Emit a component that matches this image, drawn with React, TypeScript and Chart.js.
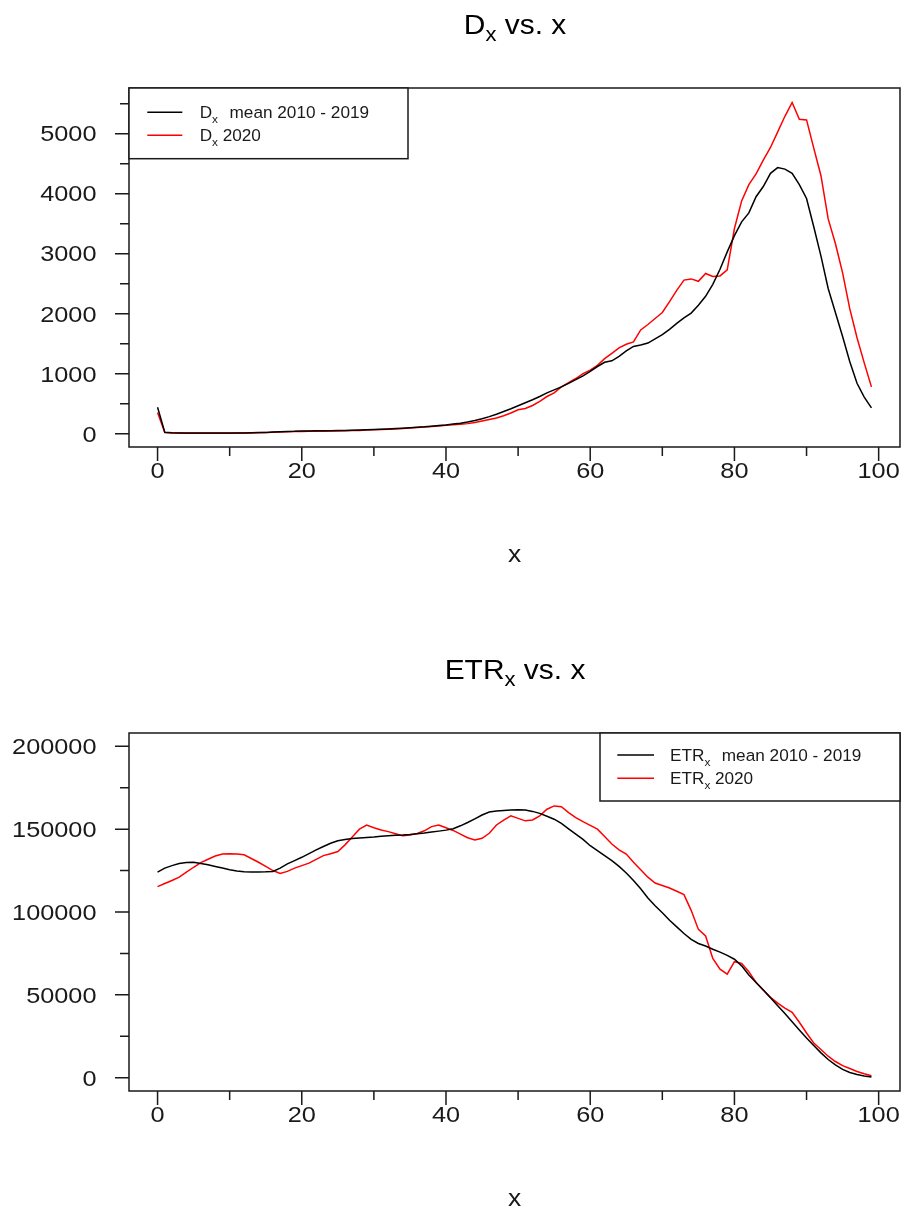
import React, { useEffect, useRef } from 'react';
import { Chart, registerables } from 'chart.js';

Chart.register(...registerables);

// ---------- data ----------
const ages = [
  0, 1, 2, 3, 4, 5, 6, 7, 8, 9, 10, 11, 12, 13, 14, 15, 16, 17, 18, 19,
  20, 21, 22, 23, 24, 25, 26, 27, 28, 29, 30, 31, 32, 33, 34, 35, 36, 37, 38, 39,
  40, 41, 42, 43, 44, 45, 46, 47, 48, 49, 50, 51, 52, 53, 54, 55, 56, 57, 58, 59,
  60, 61, 62, 63, 64, 65, 66, 67, 68, 69, 70, 71, 72, 73, 74, 75, 76, 77, 78, 79,
  80, 81, 82, 83, 84, 85, 86, 87, 88, 89, 90, 91, 92, 93, 94, 95, 96, 97, 98, 99,
];

const dxMean = [
  440, 25, 15, 12, 10, 10, 10, 10, 10, 10,
  10, 12, 12, 15, 18, 22, 28, 33, 38, 40,
  45, 47, 48, 48, 50, 52, 55, 57, 60, 65,
  70, 75, 80, 85, 92, 100, 108, 115, 125, 135,
  145, 160, 175, 195, 220, 250, 285, 325, 370, 415,
  465, 515, 565, 620, 680, 730, 780, 840, 900, 965,
  1040, 1120, 1190, 1215, 1290, 1380, 1455, 1480, 1510, 1580,
  1650, 1740, 1840, 1930, 2010, 2140, 2290, 2490, 2740, 3030,
  3300, 3530, 3680, 3950, 4120, 4340, 4435, 4410, 4340, 4150,
  3920, 3450, 2960, 2420, 2020, 1620, 1200, 840, 610, 430,
];

const dx2020 = [
  355, 20, 12, 10, 8, 8, 8, 8, 8, 8,
  8, 10, 10, 12, 15, 18, 26, 30, 34, 36,
  38, 40, 40, 42, 44, 46, 48, 52, 55, 60,
  65, 70, 75, 80, 87, 95, 102, 110, 120, 130,
  140, 150, 158, 168, 185, 210, 235, 262, 300, 345,
  400, 420, 470, 540, 620, 680, 780, 850, 920, 1000,
  1060, 1140, 1250, 1340, 1430, 1490, 1530, 1730, 1820, 1920,
  2020, 2200, 2390, 2560, 2580, 2540, 2670, 2620, 2630, 2730,
  3420, 3880, 4150, 4330, 4560, 4770, 5030, 5290, 5520, 5240,
  5230, 4760, 4300, 3580, 3170, 2680, 2080, 1600, 1180, 780,
];

const etrMean = [
  124000, 126500, 128000, 129300, 129800, 130000, 129200, 128500, 127500, 126500,
  125500, 124800, 124300, 124200, 124200, 124300, 124500, 126500, 129000, 131000,
  133000, 135200, 137500, 139500, 141500, 143000, 143800, 144300, 144700, 145000,
  145300, 145700, 146000, 146300, 146500, 146800, 147200, 147600, 148200, 148800,
  149400, 150200, 152000, 154000, 156200, 158500, 160300, 161000, 161300, 161600,
  161700, 161500, 160700, 159500, 157800, 156000, 153500, 150200, 147000, 143800,
  140000, 137000, 134000, 131000, 127500, 123500, 119000, 114000, 108500, 103800,
  99500, 95000, 91000, 87000, 83500, 81000, 79500, 77500, 75800, 73800,
  71500, 67500, 62000, 57500, 53000, 48200, 43500, 38800, 33800, 28800,
  24000, 19500, 15000, 11000, 7800, 5000, 3200, 2000, 1000, 400,
];

const etr2020 = [
  115300, 117200, 119000, 121000, 124000, 127000, 129800, 131800, 133800, 135000,
  135100, 135000, 134500, 132300, 130000, 127500, 125000, 123300, 124500, 126500,
  128000, 129500, 131800, 134000, 135200, 136500, 140500, 145300, 150000, 152400,
  150800, 149500, 148500, 147200, 146000, 146400, 147400, 149000, 151500, 152500,
  150800, 149200, 147000, 144800, 143500, 144500, 147500, 152500, 155500, 158000,
  156500, 155000, 155500, 158000, 162000, 164000, 163500, 160000, 157000, 154500,
  152300, 150000, 145500, 141000, 137500, 135000, 130000, 125500, 121000, 117500,
  116000, 114500, 112500, 110500, 101000, 89500, 85500, 72000, 65500, 62500,
  70000, 69000, 64000, 57500, 53000, 48500, 45000, 42000, 39500, 33500,
  27000, 21000, 17000, 13000, 9800, 7300, 5600, 3800, 2400, 1200,
];

const xTicks = [0, 20, 40, 60, 80, 100];
const xMinorTicks = [10, 30, 50, 70, 90];
const dxYTicks = [0, 1000, 2000, 3000, 4000, 5000];
const dxYMinorTicks = [500, 1500, 2500, 3500, 4500, 5500];
const etrYTicks = [0, 50000, 100000, 150000, 200000];
const etrYMinorTicks = [25000, 75000, 125000, 175000];

// ---------- drawing helpers ----------
const FONT = '"Liberation Sans", Arial, Helvetica, sans-serif';

type Part = { t: string; s: number; dy?: number };

function partsWidth(ctx: CanvasRenderingContext2D, parts: Part[], sx: number) {
  let w = 0;
  for (const p of parts) {
    ctx.font = `${p.s}px ${FONT}`;
    w += ctx.measureText(p.t).width * sx;
  }
  return w;
}

function drawParts(
  ctx: CanvasRenderingContext2D,
  parts: Part[],
  x: number,
  y: number,
  sx: number,
  align: 'left' | 'center' | 'right',
  color = '#000'
) {
  const total = partsWidth(ctx, parts, sx);
  let cx = x;
  if (align === 'center') cx = x - total / 2;
  if (align === 'right') cx = x - total;
  for (const p of parts) {
    ctx.save();
    ctx.font = `${p.s}px ${FONT}`;
    ctx.fillStyle = color;
    ctx.textAlign = 'left';
    ctx.textBaseline = 'alphabetic';
    const w = ctx.measureText(p.t).width * sx;
    ctx.translate(cx, y + (p.dy || 0));
    ctx.scale(sx, 1);
    ctx.fillText(p.t, 0, 0);
    ctx.restore();
    cx += w;
  }
  return cx;
}

type LegendRow = { color: string; head: Part[]; gap: number; tail: string };

type PanelSpec = {
  title: Part[];
  titleBaseline: number;
  yTicks: number[];
  yMinor: number[];
  legendBox: [number, number, number, number];
  legendLine: [number, number];
  legendTextX: number;
  legendRowsY: number[];
  legendRows: LegendRow[];
};

function framePlugin(spec: PanelSpec) {
  return {
    id: 'rframe',
    afterDraw(chart: any) {
      const ctx: CanvasRenderingContext2D = chart.ctx;
      const a = chart.chartArea;
      const xs = chart.scales.x;
      const ys = chart.scales.y;
      const ink = '#1a1a1a';
      ctx.save();
      ctx.strokeStyle = ink;
      ctx.lineWidth = 1.5;
      ctx.strokeRect(a.left, a.top, a.right - a.left, a.bottom - a.top);
      ctx.beginPath();
      for (const v of xTicks) {
        const px = xs.getPixelForValue(v);
        ctx.moveTo(px, a.bottom);
        ctx.lineTo(px, a.bottom + 14);
      }
      for (const v of xMinorTicks) {
        const px = xs.getPixelForValue(v);
        ctx.moveTo(px, a.bottom);
        ctx.lineTo(px, a.bottom + 9);
      }
      for (const v of spec.yTicks) {
        const py = ys.getPixelForValue(v);
        ctx.moveTo(a.left, py);
        ctx.lineTo(a.left - 14, py);
      }
      for (const v of spec.yMinor) {
        const py = ys.getPixelForValue(v);
        ctx.moveTo(a.left, py);
        ctx.lineTo(a.left - 9, py);
      }
      ctx.stroke();
      ctx.restore();

      // tick labels
      const tsx = 1.15;
      const ts = 22;
      for (const v of xTicks) {
        const px = xs.getPixelForValue(v);
        drawParts(ctx, [{ t: String(v), s: ts }], px, a.bottom + 31, tsx, 'center', ink);
      }
      for (const v of spec.yTicks) {
        const py = ys.getPixelForValue(v);
        drawParts(ctx, [{ t: String(v), s: ts }], a.left - 32.5, py + 7.8, tsx, 'right', ink);
      }
      // x axis label
      drawParts(ctx, [{ t: 'x', s: 23 }], (a.left + a.right) / 2, a.bottom + 115, tsx, 'center', ink);

      // title
      drawParts(ctx, spec.title, (a.left + a.right) / 2 + 0.5, spec.titleBaseline, 1.05, 'center', '#000');

      // legend
      const [bx1, by1, bx2, by2] = spec.legendBox;
      ctx.save();
      ctx.fillStyle = '#fff';
      ctx.fillRect(bx1, by1, bx2 - bx1, by2 - by1);
      ctx.strokeStyle = ink;
      ctx.lineWidth = 1.5;
      ctx.strokeRect(bx1, by1, bx2 - bx1, by2 - by1);
      ctx.restore();
      spec.legendRows.forEach((row, i) => {
        const ry = spec.legendRowsY[i];
        ctx.save();
        ctx.strokeStyle = row.color;
        ctx.lineWidth = 1.5;
        ctx.beginPath();
        ctx.moveTo(spec.legendLine[0], ry);
        ctx.lineTo(spec.legendLine[1], ry);
        ctx.stroke();
        ctx.restore();
        const endX = drawParts(ctx, row.head, spec.legendTextX, ry + 6, 1.03, 'left', ink);
        drawParts(ctx, [{ t: row.tail, s: 16.7 }], endX + row.gap, ry + 6, 1.03, 'left', ink);
      });
    },
  };
}

function lineDatasets(meanVals: number[], curVals: number[]) {
  return [
    {
      label: 'mean 2010 - 2019',
      data: ages.map((a, i) => ({ x: a, y: meanVals[i] })),
      borderColor: '#000000',
      borderWidth: 1.5,
      pointRadius: 0,
      tension: 0,
      fill: false,
    },
    {
      label: '2020',
      data: ages.map((a, i) => ({ x: a, y: curVals[i] })),
      borderColor: '#ff0000',
      borderWidth: 1.5,
      pointRadius: 0,
      tension: 0,
      fill: false,
    },
  ];
}

function makeChart(
  canvas: HTMLCanvasElement,
  meanVals: number[],
  curVals: number[],
  yMin: number,
  yMax: number,
  padding: { left: number; right: number; top: number; bottom: number },
  spec: PanelSpec
) {
  return new Chart(canvas, {
    type: 'line',
    data: { datasets: lineDatasets(meanVals, curVals) as any },
    options: {
      animation: false,
      responsive: false,
      devicePixelRatio: 1,
      events: [],
      layout: { padding },
      scales: {
        x: { type: 'linear', min: -3.96, max: 102.96, display: false },
        y: { type: 'linear', min: yMin, max: yMax, display: false },
      },
      plugins: {
        legend: { display: false },
        title: { display: false },
        tooltip: { enabled: false },
      },
    },
    plugins: [framePlugin(spec)],
  } as any);
}

export default function App() {
  const ref1 = useRef<HTMLCanvasElement>(null);
  const ref2 = useRef<HTMLCanvasElement>(null);

  useEffect(() => {
    document.body.style.margin = '0';
    const spec1: PanelSpec = {
      title: [
        { t: 'D', s: 28.5 },
        { t: 'x', s: 21, dy: 7 },
        { t: ' vs. x', s: 28.5 },
      ],
      titleBaseline: 33.5,
      yTicks: dxYTicks,
      yMinor: dxYMinorTicks,
      legendBox: [129, 88, 408, 158.7],
      legendLine: [147.3, 182.3],
      legendTextX: 199.7,
      legendRowsY: [112.3, 135.3],
      legendRows: [
        { color: '#000000', head: [{ t: 'D', s: 16.7 }, { t: 'x', s: 11.5, dy: 5 }], gap: 11.5, tail: 'mean 2010 - 2019' },
        { color: '#ff0000', head: [{ t: 'D', s: 16.7 }, { t: 'x', s: 11.5, dy: 5 }], gap: 4.6, tail: '2020' },
      ],
    };
    const spec2: PanelSpec = {
      title: [
        { t: 'ETR', s: 28.5 },
        { t: 'x', s: 21, dy: 7 },
        { t: ' vs. x', s: 28.5 },
      ],
      titleBaseline: 71.5,
      yTicks: etrYTicks,
      yMinor: etrYMinorTicks,
      legendBox: [600, 126, 900, 194],
      legendLine: [617.3, 654],
      legendTextX: 670,
      legendRowsY: [148, 171.3],
      legendRows: [
        { color: '#000000', head: [{ t: 'ETR', s: 16.7 }, { t: 'x', s: 11.5, dy: 5 }], gap: 11.5, tail: 'mean 2010 - 2019' },
        { color: '#ff0000', head: [{ t: 'ETR', s: 16.7 }, { t: 'x', s: 11.5, dy: 5 }], gap: 4.6, tail: '2020' },
      ],
    };
    const c1 = makeChart(ref1.current!, dxMean, dx2020, -221.6, 5761.6, { left: 129, right: 2, top: 88, bottom: 160 }, spec1);
    const c2 = makeChart(ref2.current!, etrMean, etr2020, -8000, 208000, { left: 129, right: 2, top: 126, bottom: 123 }, spec2);
    return () => {
      c1.destroy();
      c2.destroy();
    };
  }, []);

  return (
    <div style={{ position: 'absolute', left: 0, top: 0, width: 902, height: 1214, background: '#fff' }}>
      <canvas ref={ref1} width={902} height={607} style={{ display: 'block', width: 902, height: 607 }} />
      <canvas ref={ref2} width={902} height={607} style={{ display: 'block', width: 902, height: 607 }} />
    </div>
  );
}
